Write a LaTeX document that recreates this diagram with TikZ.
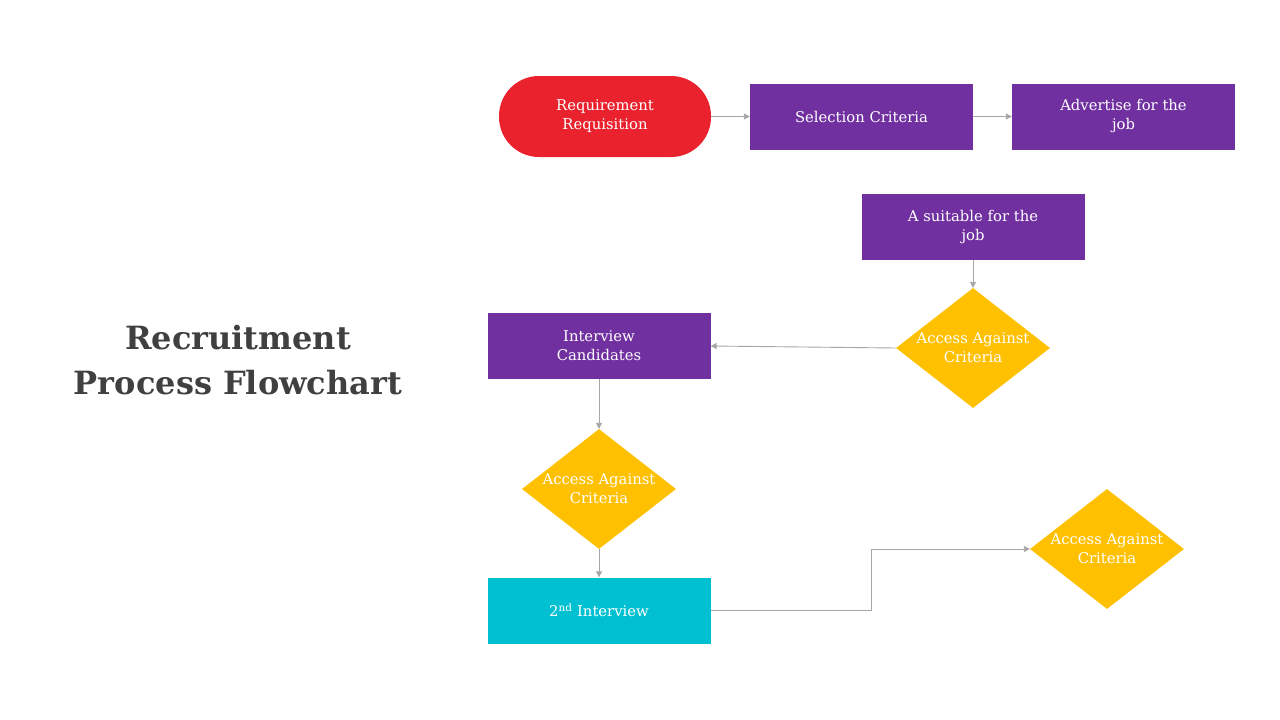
\documentclass[tikz,border=0pt]{standalone}
\usepackage{fontspec}
\setmainfont{DejaVu Serif}
\usepackage{tikz}
\usetikzlibrary{arrows.meta,shapes.geometric,positioning}

\definecolor{redbox}{HTML}{EA222E}
\definecolor{purplebox}{HTML}{7030A0}
\definecolor{goldbox}{HTML}{FFC000}
\definecolor{cyanbox}{HTML}{00C0D2}
\definecolor{linegray}{HTML}{A6A6A6}
\definecolor{titlegray}{HTML}{404040}

\tikzset{
  txt/.style={text=white, align=center, font=\fontsize{14.8}{19}\selectfont},
  box/.style={txt, shape=rectangle, fill=purplebox, minimum width=223pt, minimum height=66pt, inner sep=0pt},
  pill/.style={txt, shape=rectangle, fill=redbox, rounded corners=40pt, minimum width=212pt, minimum height=81pt, inner sep=0pt},
  dmd/.style={shape=diamond, fill=goldbox, minimum width=154pt, minimum height=120pt, inner sep=0pt},
  conn/.style={draw=linegray, line width=0.9pt, -{Triangle[length=6pt,width=6pt]}},
  ttl/.style={text=titlegray, align=center, font=\fontsize{32}{45}\selectfont\bfseries}
}

\begin{document}
\begin{tikzpicture}[x=1pt,y=-1pt]
\useasboundingbox (0,0) rectangle (1280,720);

\node[ttl] (title) at (238,360) {Recruitment\\Process Flowchart};

\node[pill] (req) at (605,116.5) {Requirement\\Requisition};
\node[box] (sel) at (861.5,116.5) {Selection Criteria};
\node[box] (adv) at (1123.5,116.5) {Advertise for the\\job};
\node[box] (suit) at (973,227) {A suitable for the\\job};
\node[dmd, label={[txt]center:Access Against\\Criteria}] (acc1) at (973,348) {};
\node[box] (intv) at (599,346) {Interview\\Candidates};
\node[dmd, label={[txt]center:Access Against\\Criteria}] (acc2) at (599,489) {};
\node[box, fill=cyanbox] (intv2) at (599,610.5) {2\textsuperscript{nd} Interview};
\node[dmd, label={[txt]center:Access Against\\Criteria}] (acc3) at (1107,549) {};
\coordinate (bend) at (871,549);

\draw [conn] (req.east) -- (sel.west);
\draw [conn] (sel.east) -- (adv.west);
\draw [conn] (suit.south) -- (acc1.north);
\draw [conn] (acc1.west) -- (intv.east);
\draw [conn] (intv.south) -- (acc2.north);
\draw [conn] (acc2.south) -- (intv2.north);
\draw [conn] (intv2.east) -| (bend) -- (acc3.west);
\end{tikzpicture}
\end{document}
